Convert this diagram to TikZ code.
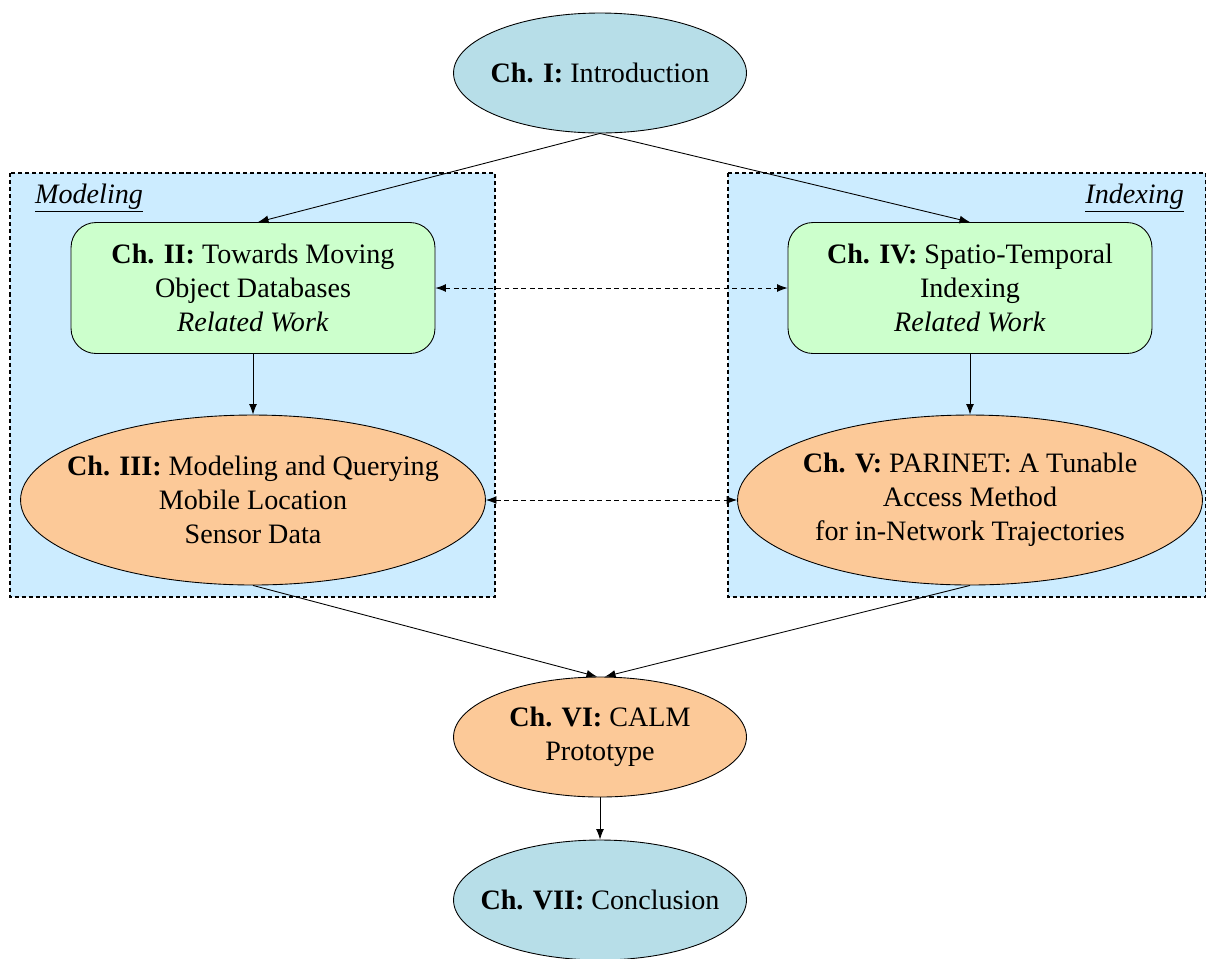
\documentclass[tikz,border=0pt]{standalone}
\usepackage{fontspec}
\setmainfont{Liberation Serif}
\usepackage{tikz}
\usetikzlibrary{positioning,shapes.geometric,arrows.meta}

\definecolor{chteal}{RGB}{183,222,232}
\definecolor{chgreen}{RGB}{204,255,204}
\definecolor{chorange}{RGB}{252,201,152}
\definecolor{grpblue}{RGB}{204,236,255}

\begin{document}
\begin{tikzpicture}[
    x=0.02cm, y=-0.02cm,
    >={Latex[length=6pt,width=4.5pt]},
    font=\fontsize{16}{19.3}\selectfont,
    chap/.style = {
      draw,
      ellipse,
      inner xsep = -2cm,
      inner ysep = -1cm,
      align = center,
      line width = 0.5pt
    },
    small chap/.style = {
      chap,
      minimum width = 5.86cm,
      minimum height = 2.4cm
    },
    big chap/.style = {
      chap,
      fill = chorange,
      minimum width = 9.3cm,
      minimum height = 3.4cm
    },
    related/.style = {
      draw,
      fill = chgreen,
      rounded corners = 0.5cm,
      line width = 0.5pt,
      align = center,
      minimum width = 7.28cm,
      minimum height = 2.62cm
    },
    group/.style = {
      draw,
      fill = grpblue,
      line width = 0.6pt,
      dash pattern = on 2.3pt off 1.7pt
    },
    link/.style = {->, line width = 0.5pt},
    peer/.style = {<->, line width = 0.5pt, dash pattern = on 2.8pt off 2pt}
  ]
  \useasboundingbox (0,0) rectangle (1206,958);

  % the two groups
  \draw[group] (10,173) rectangle (495,597);
  \draw[group] (728,173) rectangle (1205.5,597);
  \node[anchor=west] (modlab) at (29,198) {\underline{\textit{Modeling}}};
  \node[anchor=east] (idxlab) at (1190,198) {\underline{\textit{Indexing}}};

  % chapters
  \node[small chap, fill=chteal] (intro) at (600,73) {\textbf{Ch. I:} Introduction};
  \node[related] (rwmod) at (253,288)
    {\textbf{Ch. II:} Towards Moving\\Object Databases\\\textit{Related Work}};
  \node[related] (rwidx) at (970,288)
    {\textbf{Ch. IV:} Spatio-Temporal\\Indexing\\\textit{Related Work}};
  \node[big chap] (model) at (253,500)
    {\textbf{Ch. III:} Modeling and Querying\\Mobile Location\\Sensor Data};
  \node[big chap] (parinet) at (970,500)
    {\textbf{Ch. V:} PARINET: A Tunable\\Access Method\\for in-Network Trajectories};
  \node[small chap, fill=chorange] (calm) at (600,737) {\textbf{Ch. VI:} CALM\\Prototype};
  \node[small chap, fill=chteal] (concl) at (600,900) {\textbf{Ch. VII:} Conclusion};

  % flow
  \draw[link] (intro.south) -- ([xshift=0.1cm]rwmod.north);
  \draw[link] (intro.south) -- (rwidx.north);
  \draw[link] (rwmod) -- (model);
  \draw[link] (rwidx) -- (parinet);
  \draw[peer] (rwmod.east) -- (rwidx.west);
  \draw[peer] (model.east) -- (parinet.west);
  \draw[link] (model.south) -- ([xshift=-0.06cm]calm.north);
  \draw[link] (parinet.south) -- ([xshift=0.1cm]calm.north);
  \draw[link] (calm) -- (concl);
\end{tikzpicture}
\end{document}
